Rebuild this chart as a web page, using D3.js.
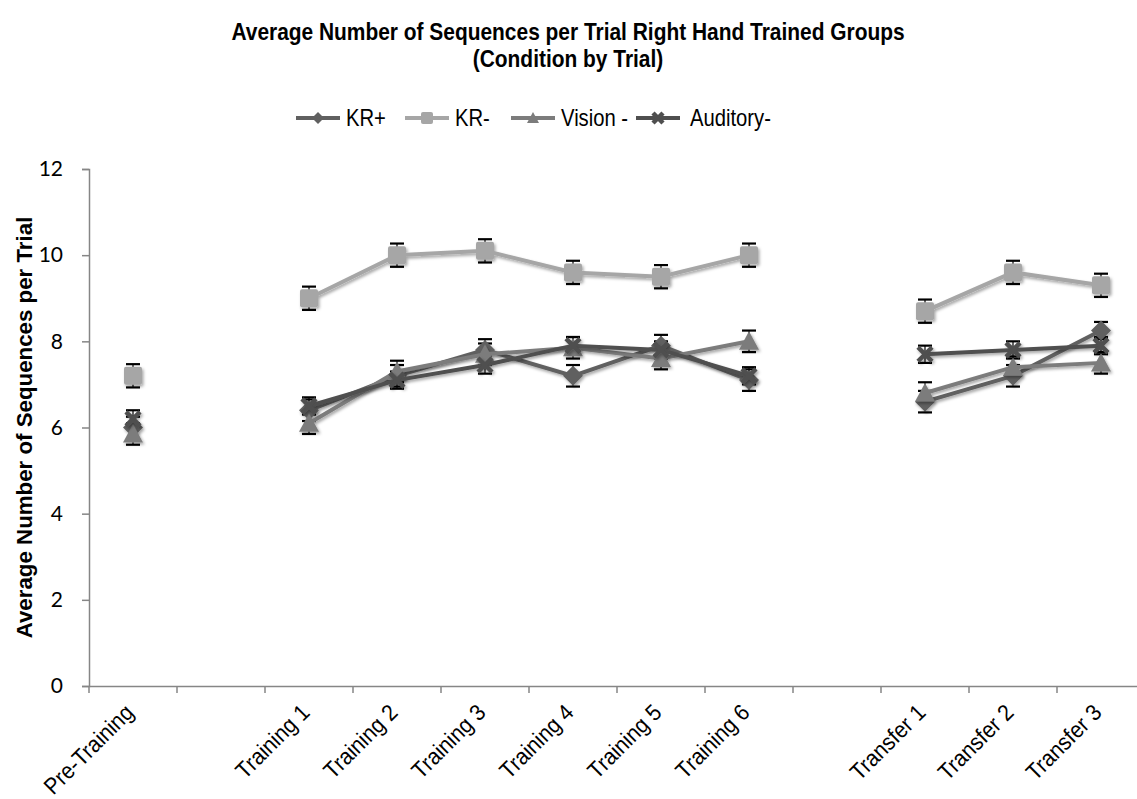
<!DOCTYPE html>
<html>
<head>
<meta charset="utf-8">
<script src="https://cdn.jsdelivr.net/npm/d3@7"></script>
<style>
  body { margin: 0; background: #fff; }
  .narrow { font-family: 'Liberation Sans Narrow', 'Arial Narrow', 'Liberation Sans', Arial, sans-serif; }
</style>
</head>
<body>
<div id="chart"></div>
<script>
// categories (blank slots are the gaps in the original chart)
const categories = ["Pre-Training", " ", "Training 1", "Training 2", "Training 3", "Training 4",
  "Training 5", "Training 6", "  ", "Transfer 1", "Transfer 2", "Transfer 3"];
const seriesNames = ["KR+", "KR-", "Vision -", "Auditory-"];

// means per series, null = gap
const krPlus   = [6.0, null, 6.4, 7.2, 7.8, 7.2, 7.9, 7.1, null, 6.6, 7.2, 8.25];
const krMinus  = [7.2, null, 9.0, 10.0, 10.1, 9.6, 9.5, 10.0, null, 8.7, 9.6, 9.3];
const visionM  = [5.85, null, 6.1, 7.3, 7.7, 7.85, 7.6, 8.0, null, 6.8, 7.4, 7.5];
const auditory = [6.2, null, 6.5, 7.1, 7.45, 7.9, 7.8, 7.2, null, 7.7, 7.8, 7.9];

// standard error (half bar length)
const errKrPlus   = [0.25, null, 0.25, 0.25, 0.25, 0.25, 0.25, 0.25, null, 0.25, 0.25, 0.2];
const errKrMinus  = [0.27, null, 0.27, 0.27, 0.27, 0.27, 0.27, 0.27, null, 0.27, 0.27, 0.27];
const errVision   = [0.25, null, 0.25, 0.25, 0.25, 0.25, 0.25, 0.25, null, 0.25, 0.25, 0.25];
const errAuditory = [0.2, null, 0.2, 0.2, 0.2, 0.2, 0.2, 0.2, null, 0.2, 0.2, 0.2];

const yTicks = [0, 2, 4, 6, 8, 10, 12];

const series = [
  {name: seriesNames[0], values: krPlus, errs: errKrPlus, color: "#606060", marker: "diamond"},
  {name: seriesNames[1], values: krMinus, errs: errKrMinus, color: "#a6a6a6", marker: "square"},
  {name: seriesNames[2], values: visionM, errs: errVision, color: "#7c7c7c", marker: "triangle"},
  {name: seriesNames[3], values: auditory, errs: errAuditory, color: "#4f4f4f", marker: "cross"}
];

const W = 1137, H = 799;
const margin = {top: 169, left: 89, bottom: 113};
const SX = 0.88; // squeeze to mimic a narrow face

const svg = d3.select("#chart").append("svg")
  .attr("width", W).attr("height", H);

const defs = svg.append("defs");
const f = defs.append("filter").attr("id", "shadow")
  .attr("x", "-30%").attr("y", "-30%").attr("width", "160%").attr("height", "160%");
f.append("feDropShadow").attr("dx", 1.5).attr("dy", 2).attr("stdDeviation", 1.6)
  .attr("flood-color", "#000").attr("flood-opacity", 0.35);

const x = d3.scaleBand().domain(categories).range([margin.left, margin.left + 88 * categories.length]);
const y = d3.scaleLinear().domain([0, 12]).range([H - margin.bottom, margin.top]);

// title
[["Average Number of Sequences per Trial Right Hand Trained Groups", 40],
 ["(Condition by Trial)", 67]].forEach(([t, ty]) => {
  svg.append("text").attr("class", "narrow")
    .attr("transform", `translate(568,${ty}) scale(0.91,1)`)
    .attr("text-anchor", "middle")
    .style("font-weight", "bold").style("font-size", "23px")
    .text(t);
});

// axes
const yAxis = svg.append("g")
  .attr("transform", `translate(${margin.left},0)`)
  .call(d3.axisLeft(y).tickValues(yTicks).tickSize(7).tickPadding(19).tickFormat(d3.format("d")));
yAxis.selectAll("line, path").attr("stroke", "#868686").attr("stroke-width", 1.5);
yAxis.selectAll("text").style("font-family", "Lato, 'Open Sans', sans-serif")
  .style("font-size", "21px").attr("fill", "#000");

const xAxis = svg.append("g")
  .attr("transform", `translate(0,${y(0)})`)
  .call(d3.axisBottom(x).tickSize(0).tickFormat(""));
xAxis.select(".domain").attr("stroke", "#868686").attr("stroke-width", 1.5);
xAxis.selectAll(".tick").remove();

// x tick marks at band boundaries
const bounds = categories.map(c => x(c)).concat([x(categories[categories.length - 1]) + x.bandwidth()]);
svg.append("g").selectAll("line").data(bounds).join("line")
  .attr("x1", d => d).attr("x2", d => d)
  .attr("y1", y(0)).attr("y2", y(0) + 7)
  .attr("stroke", "#868686").attr("stroke-width", 1.5);

// x labels
svg.append("g").selectAll("text").data(categories.filter(c => c.trim() !== "")).join("text")
  .attr("class", "narrow")
  .attr("transform", d => `translate(${x(d) + x.bandwidth() / 2 + 2},${y(0) + 28}) rotate(-45) scale(0.92,1)`)
  .attr("text-anchor", "end")
  .style("font-size", "23px")
  .text(d => d);

// y axis title
svg.append("text").attr("class", "narrow")
  .attr("transform", `translate(32,${(y(0) + y(12)) / 2}) rotate(-90) scale(0.97,1)`)
  .attr("text-anchor", "middle")
  .style("font-weight", "bold").style("font-size", "23px")
  .text("Average Number of Sequences per Trial");

function drawMarker(g, type, color, s) {
  if (type === "square") {
    g.append("rect").attr("x", -s).attr("y", -s).attr("width", 2 * s).attr("height", 2 * s)
      .attr("rx", 2).attr("fill", color);
  } else if (type === "cross") {
    g.append("path").attr("d", `M${-s},${-s}L${s},${s}M${-s},${s}L${s},${-s}`)
      .attr("stroke", color).attr("stroke-width", 4.5).attr("fill", "none");
  } else if (type === "diamond") {
    g.append("path").attr("d", `M0,${-s}L${s},0L0,${s}L${-s},0Z`).attr("fill", color);
  } else {
    g.append("path").attr("d", `M0,${-s}L${s},${s * 0.85}L${-s},${s * 0.85}Z`).attr("fill", color);
  }
}

const cx = i => x(categories[i]) + x.bandwidth() / 2;
const line = d3.line().defined(d => d.v != null).x(d => cx(d.i)).y(d => y(d.v));

// error bars behind the markers
const eb = svg.append("g");
series.forEach(s => {
  s.values.forEach((v, i) => {
    if (v == null) return;
    const e = s.errs[i], xx = cx(i);
    eb.append("line").attr("x1", xx).attr("x2", xx)
      .attr("y1", y(v + e)).attr("y2", y(v - e)).attr("stroke", "#000").attr("stroke-width", 1.2);
    [v + e, v - e].forEach(w => {
      eb.append("line").attr("x1", xx - 7).attr("x2", xx + 7)
        .attr("y1", y(w)).attr("y2", y(w)).attr("stroke", "#000").attr("stroke-width", 2.2);
    });
  });
});

const plot = svg.append("g");
series.forEach(s => {
  const g = plot.append("g").attr("filter", "url(#shadow)");
  const pts = s.values.map((v, i) => ({v, i}));
  g.append("path").datum(pts).attr("d", line)
    .attr("fill", "none").attr("stroke", s.color).attr("stroke-width", 4);
  pts.filter(p => p.v != null).forEach(p => {
    const m = g.append("g").attr("transform", `translate(${cx(p.i)},${y(p.v)})`);
    const size = s.marker === "square" ? 9 : (s.marker === "cross" ? 7 : 10);
    drawMarker(m, s.marker, s.color, size);
  });
});

// legend
const legendX = [296, 405, 511, 636];
const legend = svg.append("g");
series.forEach((s, i) => {
  const lg = legend.append("g").attr("transform", `translate(${legendX[i]},118)`);
  lg.append("line").attr("x1", 0).attr("x2", 44).attr("stroke", s.color).attr("stroke-width", 4);
  const m = lg.append("g").attr("transform", "translate(22,0)");
  drawMarker(m, s.marker, s.color, s.marker === "cross" ? 5 : 6);
  lg.append("text").attr("class", "narrow")
    .attr("transform", `translate(${s.marker === "cross" ? 54 : 50},8) scale(${SX},1)`)
    .style("font-size", "23px").text(s.name);
});
</script>
</body>
</html>
